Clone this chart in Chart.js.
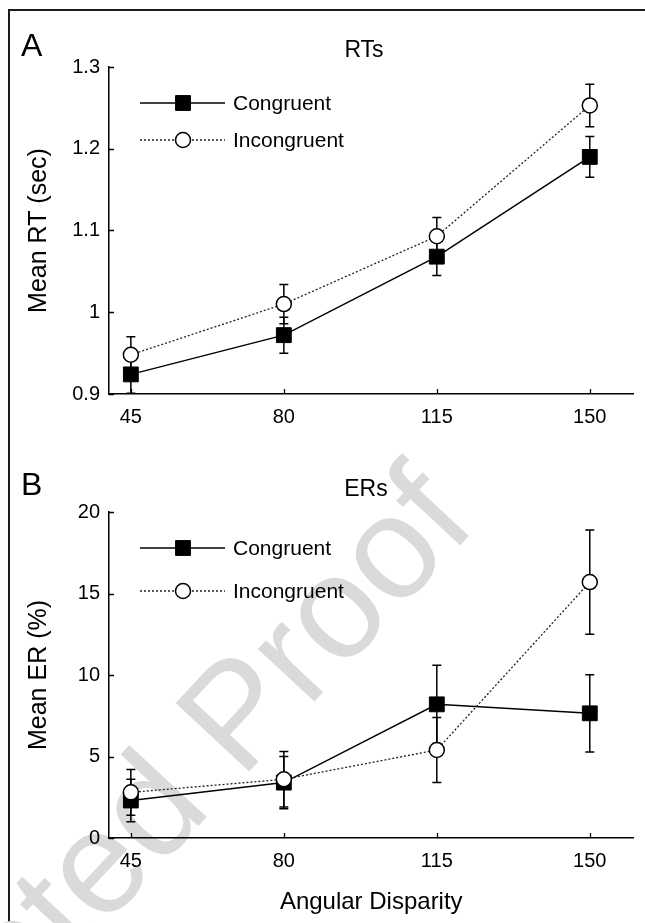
<!DOCTYPE html>
<html>
<head>
<meta charset="utf-8">
<script src="https://cdn.jsdelivr.net/npm/chart.js@4.4.1/dist/chart.umd.min.js"></script>
<style>
  body { margin: 0; background: #fff; width: 645px; height: 923px; overflow: hidden; position: relative; font-family: "Liberation Sans", Arial, sans-serif; }
  #frame { position: absolute; left: 8px; top: 9px; width: 660px; height: 940px; border-left: 2px solid #1a1a1a; border-top: 2px solid #1a1a1a; }
  #wm { position: absolute; left: 102px; top: 856px; transform: translate(-50%, -50%) rotate(-47deg); font-size: 146px; color: #dadada; white-space: nowrap; line-height: 1; }
  canvas { position: absolute; left: 0; }
  #rtChart { top: 0; }
  #erChart { top: 455px; }
</style>
</head>
<body>
<div id="frame"></div>
<div id="wm">Accepted Proof</div>
<canvas id="rtChart" width="645" height="455"></canvas>
<canvas id="erChart" width="645" height="468"></canvas>
<script>
// values
const angles = [45, 80, 115, 150];
const xTicks = [45, 80, 115, 150];
const rtTicks = [0.9, 1, 1.1, 1.2, 1.3];
const erTicks = [0, 5, 10, 15, 20];

const rtCongruent = [0.924, 0.972, 1.068, 1.190];
const rtCongruentErr = [0.023, 0.022, 0.023, 0.025];
const rtIncongruent = [0.948, 1.010, 1.093, 1.253];
const rtIncongruentErr = [0.022, 0.024, 0.023, 0.026];

const erCongruent = [2.3, 3.4, 8.2, 7.65];
const erCongruentErr = [1.3, 1.6, 2.4, 2.37];
const erIncongruent = [2.8, 3.6, 5.4, 15.7];
const erIncongruentErr = [1.4, 1.7, 2.0, 3.2];

Chart.defaults.font.family = '"Liberation Sans", Arial, sans-serif';
Chart.defaults.color = '#000';

const toPoints = (vals) => angles.map((a, i) => ({ x: a, y: vals[i] }));

const errorBars = {
  id: 'errorBars',
  beforeDatasetsDraw(chart) {
    const { ctx, scales: { x, y } } = chart;
    ctx.save();
    ctx.strokeStyle = '#000';
    ctx.lineWidth = 1.5;
    chart.data.datasets.forEach((ds) => {
      ds.data.forEach((p, i) => {
        const px = x.getPixelForValue(p.x);
        const top = y.getPixelForValue(p.y + ds.errors[i]);
        const bot = y.getPixelForValue(p.y - ds.errors[i]);
        ctx.beginPath();
        ctx.moveTo(px, top); ctx.lineTo(px, bot);
        ctx.moveTo(px - 4.5, top); ctx.lineTo(px + 4.5, top);
        ctx.moveTo(px - 4.5, bot); ctx.lineTo(px + 4.5, bot);
        ctx.stroke();
      });
    });
    ctx.restore();
  }
};

// small tick marks pointing into the plot
const innerTicks = {
  id: 'innerTicks',
  afterDraw(chart) {
    const { ctx, scales: { x, y } } = chart;
    ctx.save();
    ctx.strokeStyle = '#000';
    ctx.lineWidth = 1.3;
    ctx.beginPath();
    x.ticks.forEach((t) => {
      const px = Math.round(x.getPixelForValue(t.value)) + 0.5;
      ctx.moveTo(px, y.bottom); ctx.lineTo(px, y.bottom - 5);
    });
    y.ticks.forEach((t) => {
      const py = Math.round(y.getPixelForValue(t.value)) + 0.5;
      ctx.moveTo(x.left, py); ctx.lineTo(x.left + 5, py);
    });
    ctx.stroke();
    ctx.restore();
  }
};

const panelText = {
  id: 'panelText',
  afterDraw(chart, args, opts) {
    const ctx = chart.ctx;
    ctx.save();
    ctx.fillStyle = '#000';
    ctx.textBaseline = 'alphabetic';
    ctx.font = '32px "Liberation Sans", Arial, sans-serif';
    ctx.textAlign = 'left';
    ctx.fillText(opts.letter, 21, opts.baseline);
    ctx.font = '23px "Liberation Sans", Arial, sans-serif';
    ctx.textAlign = 'center';
    ctx.fillText(opts.title, opts.titleX, opts.baseline + 1);
    ctx.restore();
  }
};

const lineLegend = {
  id: 'lineLegend',
  afterDraw(chart, args, opts) {
    const ctx = chart.ctx;
    chart.data.datasets.forEach((ds, i) => {
      const yy = opts.rows[i];
      ctx.save();
      ctx.strokeStyle = ds.borderColor;
      ctx.lineWidth = ds.borderWidth;
      ctx.setLineDash(ds.borderDash || []);
      ctx.beginPath();
      ctx.moveTo(140, yy); ctx.lineTo(225, yy);
      ctx.stroke();
      ctx.setLineDash([]);
      ctx.fillStyle = ds.pointBackgroundColor;
      ctx.strokeStyle = '#000';
      ctx.lineWidth = ds.pointBorderWidth;
      ctx.beginPath();
      if (ds.pointStyle === 'rect') {
        const s = ds.pointRadius * Math.SQRT1_2;
        ctx.rect(183 - s, yy - s, 2 * s, 2 * s);
      } else {
        ctx.arc(183, yy, ds.pointRadius, 0, Math.PI * 2);
      }
      ctx.fill();
      ctx.stroke();
      ctx.fillStyle = '#000';
      ctx.font = '21px "Liberation Sans", Arial, sans-serif';
      ctx.textAlign = 'left';
      ctx.textBaseline = 'middle';
      ctx.fillText(ds.label, 233, yy + 1);
      ctx.restore();
    });
  }
};

function makeDatasets(cong, congErr, incong, incongErr) {
  return [
    {
      label: 'Congruent',
      data: toPoints(cong),
      errors: congErr,
      borderColor: '#000',
      borderWidth: 1.5,
      pointStyle: 'rect',
      pointRadius: 10.5,
      pointBackgroundColor: '#000',
      pointBorderColor: '#000',
      pointBorderWidth: 1,
      order: 2
    },
    {
      label: 'Incongruent',
      data: toPoints(incong),
      errors: incongErr,
      borderColor: '#222',
      borderWidth: 1.3,
      borderDash: [2, 2],
      pointStyle: 'circle',
      pointRadius: 7.5,
      pointBackgroundColor: '#fff',
      pointBorderColor: '#000',
      pointBorderWidth: 1.5,
      order: 1
    }
  ];
}

function makeOptions(cfg) {
  return {
    responsive: false,
    animation: false,
    layout: { padding: { top: cfg.padTop, right: 8, left: 0, bottom: 0 } },
    plugins: {
      legend: { display: false },
      tooltip: { enabled: false },
      panelText: cfg.text,
      lineLegend: { rows: cfg.rows }
    },
    scales: {
      x: {
        type: 'linear',
        min: 40,
        max: 160,
        afterBuildTicks: (s) => { s.ticks = xTicks.map((v) => ({ value: v })); },
        afterFit: (s) => { s.height = cfg.xHeight; },
        grid: { display: true, drawOnChartArea: false, drawTicks: false },
        border: { display: true, color: '#000', width: 1.5 },
        ticks: { font: { size: 20 }, padding: 11, maxRotation: 0, callback: (v) => String(v) },
        title: cfg.xTitle
      },
      y: {
        type: 'linear',
        min: cfg.yTicks[0],
        max: cfg.yTicks[cfg.yTicks.length - 1],
        afterBuildTicks: (s) => { s.ticks = cfg.yTicks.map((v) => ({ value: v })); },
        afterFit: (s) => { s.width = 109; },
        grid: { display: true, drawOnChartArea: false, drawTicks: false },
        border: { display: true, color: '#000', width: 1.5 },
        ticks: { font: { size: 20 }, padding: 9, callback: (v) => String(v) },
        title: { display: true, text: cfg.yTitle, font: { size: 25 }, padding: { top: 24, bottom: 0 } }
      }
    }
  };
}

new Chart(document.getElementById('rtChart'), {
  type: 'line',
  data: { datasets: makeDatasets(rtCongruent, rtCongruentErr, rtIncongruent, rtIncongruentErr) },
  options: makeOptions({
    padTop: 67,
    xHeight: 61,
    yTicks: rtTicks,
    yTitle: 'Mean RT (sec)',
    xTitle: { display: false },
    text: { letter: 'A', title: 'RTs', titleX: 364, baseline: 56 },
    rows: [103, 140]
  }),
  plugins: [errorBars, innerTicks, panelText, lineLegend]
});

new Chart(document.getElementById('erChart'), {
  type: 'line',
  data: { datasets: makeDatasets(erCongruent, erCongruentErr, erIncongruent, erIncongruentErr) },
  options: makeOptions({
    padTop: 57,
    xHeight: 85,
    yTicks: erTicks,
    yTitle: 'Mean ER (%)',
    xTitle: { display: true, text: 'Angular Disparity', font: { size: 24 }, padding: { top: 0, bottom: 6 } },
    text: { letter: 'B', title: 'ERs', titleX: 366, baseline: 40 },
    rows: [93, 136]
  }),
  plugins: [errorBars, innerTicks, panelText, lineLegend]
});
</script>
</body>
</html>
